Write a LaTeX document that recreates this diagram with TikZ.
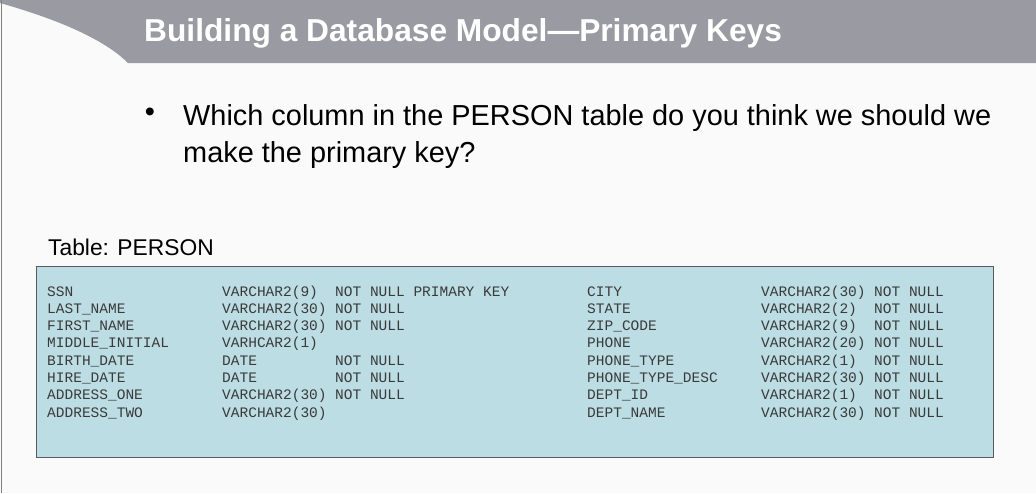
\documentclass[tikz,border=0pt]{standalone}
\usepackage{fontspec}
\setmainfont{Liberation Sans}
\newfontfamily\monofont{Liberation Mono}
\definecolor{bandgray}{HTML}{9A9AA2}
\definecolor{pagebg}{HTML}{FAFAFA}
\definecolor{tablefill}{HTML}{BCDDE3}
\definecolor{tableline}{HTML}{5A5A5A}
\definecolor{monotext}{HTML}{3A3A3A}
\tikzset{
  slidetitle/.style = {anchor=base west, inner sep=0pt, text=white, font=\fontsize{31.7}{36}\selectfont\bfseries},
  bodytext/.style = {anchor=base west, inner sep=0pt, align=left, font=\fontsize{28.9}{37}\selectfont},
  tablelabel/.style = {anchor=base west, inner sep=0pt, font=\fontsize{22.8}{26}\selectfont},
  coltext/.style = {anchor=base west, inner sep=0pt, align=left, text=monotext, font=\monofont\fontsize{14.5}{17.3}\selectfont},
}
\begin{document}
\begin{tikzpicture}[x=1pt, y=-1pt]
			\useasboundingbox (0,0) rectangle (1036,493);
			\fill[pagebg] (0,0) rectangle (1036,493);
			% title band
			\fill[bandgray] (0,3) .. controls (60,20) and (105,40) .. (128,63) -- (1036,63) -- (1036,0) -- (0,0) -- cycle;
			\draw[gray, line width=1pt] (1.5,0) -- (1.5,493);
			\node[slidetitle] (T) at (144,41) {Building a Database Model---Primary Keys};
			% question
			\node[bodytext, anchor=center] (B) at (150,115) {\textbullet};
			\node[bodytext] (Q) at (183,162) {Which column in the PERSON table do you think we should we \\ make the primary key?};
			\node[tablelabel] (L) at (48,255) {Table: PERSON};
			% table (multi-line nodes sit on their last baseline)
			\draw[tableline, fill=tablefill] (36,266) rectangle (993,457);
			\node[coltext] (N1) at (47,417.1) {SSN \\ LAST\_NAME \\ FIRST\_NAME \\ MIDDLE\_INITIAL \\ BIRTH\_DATE \\ HIRE\_DATE \\ ADDRESS\_ONE \\ ADDRESS\_TWO};
			\node[coltext] (Y1) at (222,417.1) {VARCHAR2(9) \\ VARCHAR2(30) \\ VARCHAR2(30) \\ VARHCAR2(1) \\ DATE \\ DATE \\ VARCHAR2(30) \\ VARCHAR2(30)};
			\node[coltext] (C1) at (335,399.8) {NOT NULL PRIMARY KEY \\ NOT NULL \\ NOT NULL \\ {} \\ NOT NULL \\ NOT NULL \\ NOT NULL};
			\node[coltext] (N2) at (587,417.1) {CITY \\ STATE \\ ZIP\_CODE \\ PHONE \\ PHONE\_TYPE \\ PHONE\_TYPE\_DESC \\ DEPT\_ID \\ DEPT\_NAME};
			\node[coltext] (Y2) at (761,417.1) {VARCHAR2(30) \\ VARCHAR2(2) \\ VARCHAR2(9) \\ VARCHAR2(20) \\ VARCHAR2(1) \\ VARCHAR2(30) \\ VARCHAR2(1) \\ VARCHAR2(30)};
			\node[coltext] (C2) at (874,417.1) {NOT NULL \\ NOT NULL \\ NOT NULL \\ NOT NULL \\ NOT NULL \\ NOT NULL \\ NOT NULL \\ NOT NULL};
\end{tikzpicture}
\end{document}
